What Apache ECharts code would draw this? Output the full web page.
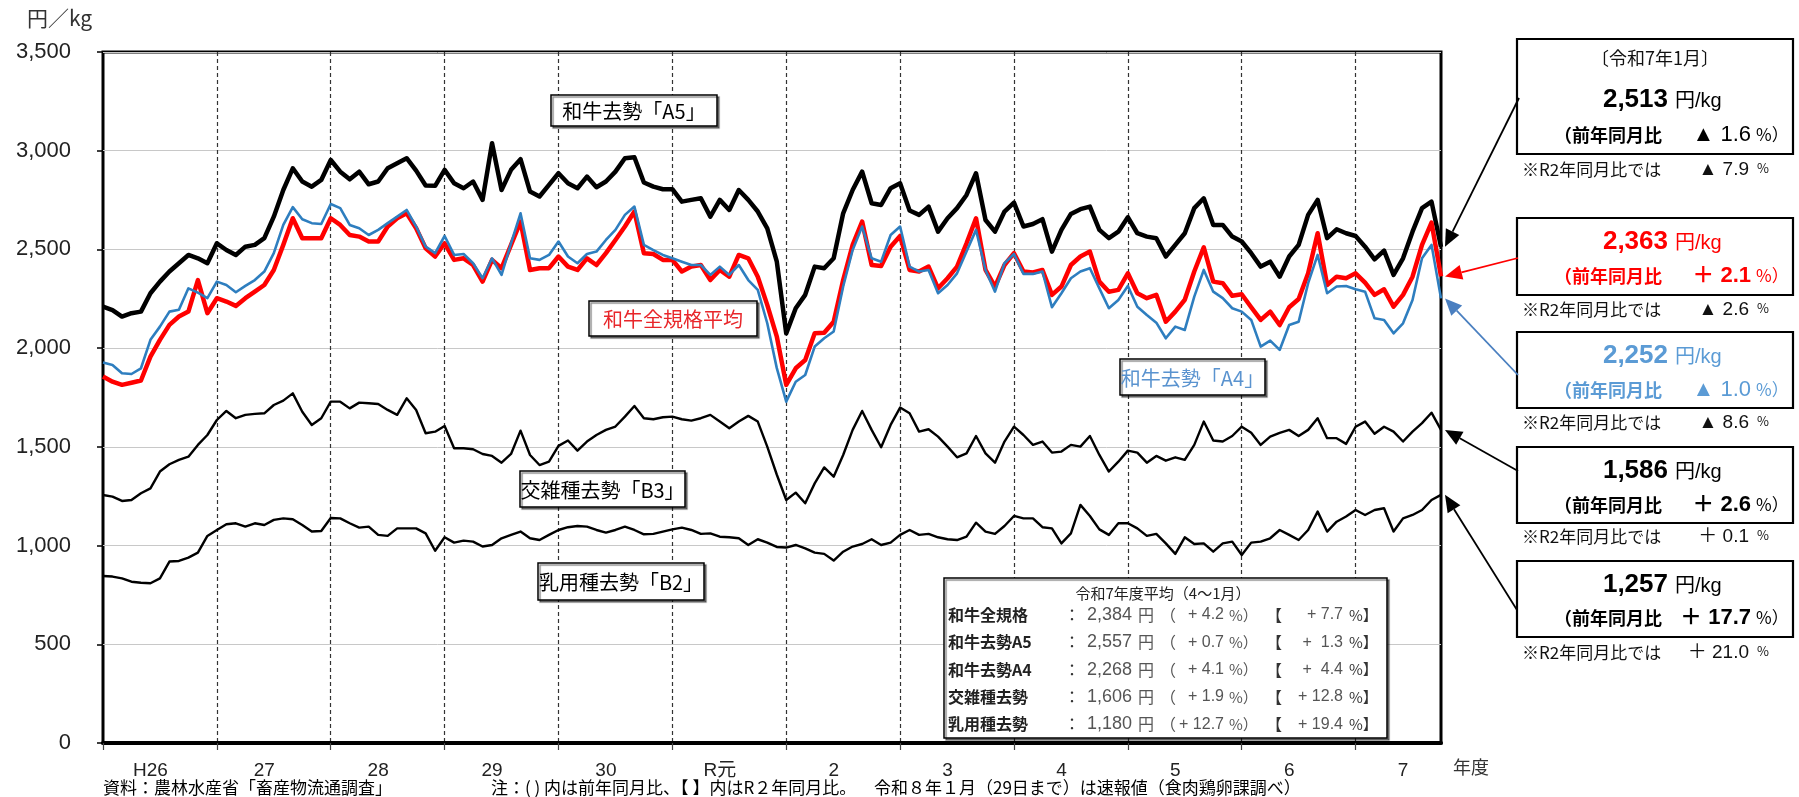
<!DOCTYPE html>
<html>
<head>
<meta charset="utf-8">
<script src="https://cdn.jsdelivr.net/npm/echarts@6/dist/echarts.min.js"></script>
<style>
html,body{margin:0;padding:0;background:#fff;}
#chart{width:1799px;height:797px;}
</style>
</head>
<body>
<div id="chart"></div>
<script>
// Fiscal years (April–March) and the number of months plotted in each
const fiscalYears = ['H26','27','28','29','30','R元','2','3','4','5','6','7'];
const monthsInYear = [12,12,12,12,12,12,12,12,12,12,12,10];
const monthNames = ['4月','5月','6月','7月','8月','9月','10月','11月','12月','1月','2月','3月'];

// Monthly carcass prices (円/kg), one row per fiscal year
const wagyuA5 = [
  2210,2193,2160,2177,2185,2278,2337,2388,2430,2472,2455,2430,
  2531,2497,2472,2514,2523,2557,2666,2801,2911,2844,2818,2852,
  2953,2894,2855,2894,2830,2844,2911,2937,2962,2899,2824,2822,
  2903,2835,2810,2844,2751,3038,2801,2903,2957,2793,2768,2827,
  2886,2835,2810,2869,2815,2844,2894,2962,2967,2839,2818,2805,
  2805,2742,2751,2759,2666,2751,2700,2801,2751,2692,2607,2440,
  2075,2202,2270,2413,2405,2455,2683,2801,2894,2734,2725,2810,
  2835,2697,2675,2717,2590,2658,2709,2776,2886,2649,2590,2692,
  2737,2616,2629,2653,2489,2599,2680,2704,2717,2599,2557,2590,
  2663,2582,2565,2557,2464,2523,2582,2709,2759,2624,2624,2565,
  2540,2481,2413,2438,2362,2464,2523,2675,2751,2557,2602,2582,
  2568,2514,2450,2494,2371,2455,2590,2709,2742,2513
];
const wagyuAll = [
  1856,1830,1814,1825,1836,1957,2042,2118,2160,2185,2345,2177,
  2253,2236,2214,2253,2286,2320,2396,2523,2658,2557,2557,2557,
  2658,2624,2573,2565,2540,2540,2616,2658,2683,2607,2506,2464,
  2531,2447,2455,2421,2337,2447,2405,2523,2641,2396,2405,2405,
  2464,2413,2396,2455,2421,2481,2548,2616,2692,2481,2477,2447,
  2447,2388,2413,2421,2345,2396,2362,2472,2455,2362,2219,2060,
  1814,1898,1940,2075,2078,2134,2345,2523,2641,2421,2416,2514,
  2568,2396,2388,2413,2303,2354,2413,2531,2658,2396,2312,2421,
  2481,2388,2383,2396,2270,2312,2421,2464,2489,2337,2286,2295,
  2379,2278,2253,2270,2134,2185,2245,2388,2511,2337,2329,2265,
  2273,2207,2143,2185,2117,2207,2249,2379,2582,2320,2362,2354,
  2379,2332,2270,2298,2210,2270,2362,2523,2636,2363
];
const wagyuA4 = [
  1927,1915,1873,1869,1898,2042,2109,2185,2194,2303,2281,2253,
  2337,2320,2283,2315,2345,2388,2481,2624,2714,2653,2633,2629,
  2730,2709,2624,2607,2573,2599,2633,2666,2700,2616,2514,2481,
  2568,2472,2477,2430,2354,2455,2371,2531,2683,2455,2447,2472,
  2540,2464,2430,2477,2489,2548,2599,2675,2717,2523,2497,2472,
  2455,2438,2421,2421,2371,2413,2371,2421,2345,2295,2126,1900,
  1729,1830,1864,2008,2050,2084,2312,2497,2616,2455,2438,2573,
  2616,2413,2388,2396,2278,2320,2379,2489,2599,2396,2286,2430,
  2477,2376,2376,2388,2207,2278,2354,2388,2405,2303,2202,2244,
  2315,2210,2168,2129,2050,2109,2092,2261,2396,2286,2253,2202,
  2185,2143,2008,2038,1991,2117,2134,2329,2472,2278,2312,2315,
  2298,2286,2151,2143,2075,2126,2244,2455,2523,2252
];
const crossB3 = [
  1256,1248,1226,1231,1265,1290,1375,1412,1434,1450,1510,1560,
  1636,1682,1645,1662,1667,1670,1712,1734,1771,1678,1611,1645,
  1729,1729,1695,1724,1721,1717,1687,1662,1746,1687,1569,1577,
  1606,1493,1493,1488,1464,1454,1420,1464,1582,1459,1408,1425,
  1505,1532,1481,1527,1560,1586,1603,1653,1707,1645,1640,1650,
  1653,1640,1633,1645,1662,1628,1594,1628,1657,1628,1501,1360,
  1231,1268,1214,1315,1396,1349,1459,1586,1682,1586,1498,1611,
  1699,1670,1577,1589,1552,1501,1447,1467,1555,1467,1420,1527,
  1602,1560,1510,1527,1471,1476,1510,1501,1555,1459,1375,1425,
  1481,1471,1420,1454,1430,1447,1434,1510,1628,1532,1527,1555,
  1602,1571,1510,1552,1571,1586,1555,1586,1645,1544,1544,1515,
  1602,1628,1566,1602,1577,1527,1577,1620,1673,1586
];
const dairyB2 = [
  846,843,834,817,812,809,834,919,922,939,964,1049,
  1079,1108,1113,1096,1113,1104,1130,1138,1133,1104,1071,1074,
  1140,1138,1113,1091,1096,1054,1049,1087,1087,1087,1062,974,
  1042,1015,1025,1020,995,1003,1037,1054,1071,1037,1028,1054,
  1079,1093,1099,1096,1079,1066,1079,1096,1079,1057,1059,1071,
  1082,1091,1079,1059,1062,1045,1042,1037,1003,1032,1015,993,
  990,1003,986,964,958,924,969,995,1008,1032,1003,1015,
  1054,1079,1054,1059,1042,1032,1028,1045,1116,1071,1059,1099,
  1150,1138,1138,1093,1087,1011,1062,1206,1150,1082,1054,1113,
  1113,1087,1049,1059,1011,958,1042,1008,1011,969,1011,1020,
  952,1015,1020,1037,1079,1054,1028,1079,1172,1071,1121,1147,
  1180,1155,1180,1189,1071,1138,1155,1180,1231,1257
];

// Year-on-year notes for the latest month
const latestYoY = ['▲ 1.6', '＋ 2.1', '▲ 1.0', '＋ 2.6', '＋ 17.7'];
const latestVsR2 = ['▲ 7.9', '▲ 2.6', '▲ 8.6', '＋ 0.1', '＋ 21.0'];

// Fiscal-year averages table
const tableLabels = ['和牛全規格', '和牛去勢A5', '和牛去勢A4', '交雑種去勢', '乳用種去勢'];
const tableAvg = ['2,384', '2,557', '2,268', '1,606', '1,180'];
const tableYoY = ['+ 4.2', '+ 0.7', '+ 4.1', '+ 1.9', '+ 12.7'];
const tableVsR2 = ['+ 7.7', '+  1.3', '+  4.4', '+ 12.8', '+ 19.4'];

const months = [];
fiscalYears.forEach((fy, k) => {
  for (let m = 0; m < monthsInYear[k]; m++) months.push(fy + '年度' + monthNames[m]);
});

const FONT = "'Liberation Sans','Noto Sans CJK JP',sans-serif";
const CJK = "'Noto Sans CJK JP','Liberation Sans',sans-serif";
const RED = '#ff0000';
const BLUE_LINE = '#2e7ebf';
const BLUE_TEXT = '#5b9bd5';

const chart = echarts.init(document.getElementById('chart'), null, {renderer: 'canvas'});

function line(name, data, color, width, z) {
  return {
    name, type: 'line', data, symbol: 'none', z,
    lineStyle: {color, width, join: 'round'},
    itemStyle: {color},
    emphasis: {disabled: true}
  };
}

chart.setOption({
  animation: false,
  backgroundColor: '#fff',
  grid: {left: 103, right: 358, top: 52, bottom: 54, show: true,
         borderColor: '#000', borderWidth: 3, backgroundColor: 'transparent'},
  xAxis: {
    type: 'category', data: months, boundaryGap: false,
    axisLine: {show: true, lineStyle: {color: '#000', width: 4}},
    axisTick: {show: true, interval: (i) => i % 12 === 0, length: 7,
               lineStyle: {color: '#444', width: 1.2}},
    axisLabel: {interval: (i) => i % 12 === 5, margin: 18,
                formatter: (v, i) => fiscalYears[Math.floor(i / 12)],
                color: '#222', fontSize: 19, fontFamily: FONT},
    splitLine: {show: true, interval: (i) => i > 0 && i % 12 === 0,
                lineStyle: {color: '#333', width: 1.2, type: [4, 3]}}
  },
  yAxis: {
    type: 'value', min: 0, max: 3500, interval: 500,
    axisLine: {show: false},
    axisTick: {show: true, length: 6, lineStyle: {color: '#000', width: 1.5}},
    axisLabel: {margin: 32, color: '#222', fontSize: 22, fontFamily: FONT,
                formatter: (v) => v.toLocaleString('en-US')},
    splitLine: {show: true, lineStyle: {color: '#c8c8c8', width: 1}}
  },
  series: [
    line('乳用種去勢「B2」', dairyB2, '#000', 2.4, 2),
    line('交雑種去勢「B3」', crossB3, '#000', 2.4, 2),
    line('和牛去勢「A5」', wagyuA5, '#000', 4.5, 3),
    line('和牛全規格平均', wagyuAll, RED, 4.5, 4),
    line('和牛去勢「A4」', wagyuA4, BLUE_LINE, 2.6, 5)
  ]
});

// ---- annotations ----
function txt(x, y, text, size, o = {}) {
  return {type: 'text', x, y, z: 100, silent: true,
    style: {text, font: (o.bold ? 'bold ' : '') + size + 'px ' + (o.family || CJK),
            fill: o.color || '#000', align: o.align || 'left', verticalAlign: 'middle'}};
}
function rect(x1, y1, x2, y2, o = {}) {
  return {type: 'rect', z: 90, silent: true,
    shape: {x: x1, y: y1, width: x2 - x1, height: y2 - y1},
    style: {fill: '#fff', stroke: '#000', lineWidth: o.lw || 1.5,
            shadowColor: o.shadow ? 'rgba(0,0,0,0.45)' : 'transparent',
            shadowOffsetX: 2, shadowOffsetY: 2, shadowBlur: 1}};
}
function arrow(x1, y1, x2, y2, color) {
  const ang = Math.atan2(y2 - y1, x2 - x1);
  const L = 17, W = 7.5;
  const bx = x2 - L * Math.cos(ang), by = y2 - L * Math.sin(ang);
  const px = -Math.sin(ang), py = Math.cos(ang);
  return [
    {type: 'line', z: 95, silent: true, shape: {x1, y1, x2: bx, y2: by},
     style: {stroke: color, lineWidth: 1.8}},
    {type: 'polygon', z: 95, silent: true,
     shape: {points: [[x2, y2], [bx + px * W, by + py * W], [bx - px * W, by - py * W]]},
     style: {fill: color}}
  ];
}

const g = [];
// unit and axis caption
g.push(txt(27, 18, '円／kg', 21, {color: '#333'}));
g.push(txt(1453, 767, '年度', 18, {color: '#333'}));
// source notes
g.push(txt(103, 788, '資料：農林水産省「畜産物流通調査」', 17));
g.push(txt(491, 788, '注：( ) 内は前年同月比、【 】内はR２年同月比。', 17));
g.push(txt(874, 788, '令和８年１月（29日まで）は速報値（食肉鶏卵課調べ）', 17));

// series name boxes
[
  [551, 95, 717, 126, '和牛去勢「A5」', '#000'],
  [589, 301, 757, 336, '和牛全規格平均', '#e8262a'],
  [1120, 359, 1265, 395, '和牛去勢「A4」', '#5a93cf'],
  [520, 471, 685, 507, '交雑種去勢「B3」', '#000'],
  [538, 563, 704, 600, '乳用種去勢「B2」', '#000']
].forEach(([x1, y1, x2, y2, t, c]) => {
  g.push(rect(x1, y1, x2, y2, {shadow: true}));
  g.push(txt((x1 + x2) / 2, (y1 + y2) / 2 + 1, t, 20, {color: c, align: 'center'}));
});

// fiscal-year average table
g.push(rect(944, 578, 1387, 738, {lw: 1.5, shadow: true}));
g.push(txt(1163, 593, '令和7年度平均（4～1月）', 15, {color: '#222', align: 'center'}));
tableLabels.forEach((lab, k) => {
  const y = 615 + k * 27.3;
  g.push(txt(948, y, lab, 16, {bold: true, color: '#222'}));
  g.push(txt(1072, y, '：', 16, {color: '#333', align: 'center'}));
  g.push(txt(1132, y, tableAvg[k], 18, {color: '#555', align: 'right', family: FONT}));
  g.push(txt(1138, y, '円', 16, {color: '#555'}));
  g.push(txt(1160, y, '（', 16, {color: '#555'}));
  g.push(txt(1224, y, tableYoY[k], 16, {color: '#555', align: 'right', family: FONT}));
  g.push(txt(1229, y, '%）', 15, {color: '#555'}));
  g.push(txt(1266, y, '【', 16, {color: '#333'}));
  g.push(txt(1343, y, tableVsR2[k], 16, {color: '#555', align: 'right', family: FONT}));
  g.push(txt(1349, y, '%】', 15, {color: '#333'}));
});

// latest-month boxes on the right
const boxes = [
  {top: 39, bot: 154, valY: 100, yoyY: 135, subY: 170, color: '#000', data: wagyuA5, bold: false, from: [1519, 98]},
  {top: 218, bot: 295, valY: 242, yoyY: 276, subY: 310, color: RED, data: wagyuAll, bold: true, from: [1518, 258]},
  {top: 332, bot: 408, valY: 356, yoyY: 390, subY: 423, color: BLUE_TEXT, data: wagyuA4, bold: false, from: [1518, 375]},
  {top: 447, bot: 523, valY: 471, yoyY: 505, subY: 537, color: '#000', data: crossB3, bold: true, from: [1518, 471]},
  {top: 561, bot: 637, valY: 585, yoyY: 618, subY: 653, color: '#000', data: dairyB2, bold: true, from: [1517, 610]}
];
const arrowColors = ['#000', RED, '#4a7fc0', '#000', '#000'];
const last = months.length - 1;
boxes.forEach((b, k) => {
  g.push(rect(1517, b.top, 1793, b.bot, {lw: 2.2}));
  if (k === 0) g.push(txt(1655, 58, '〔令和7年1月〕', 18, {align: 'center', color: '#111'}));
  const v = b.data[last];
  g.push(txt(1668, b.valY, v.toLocaleString('en-US'), 26, {bold: true, color: b.color, align: 'right', family: FONT}));
  g.push(txt(1675, b.valY + 1, '円/kg', 20, {color: b.color, family: FONT}));
  g.push(txt(1554, b.yoyY, '（前年同月比', 18, {bold: true, color: b.color}));
  g.push(txt(1751, b.yoyY, latestYoY[k], 22, {bold: b.bold, color: b.color, align: 'right', family: FONT}));
  g.push(txt(1756, b.yoyY, '%）', 17, {color: b.color}));
  g.push(txt(1522, b.subY, '※R2年同月比では', 17, {color: '#111'}));
  g.push(txt(1749, b.subY, latestVsR2[k], 19, {color: '#111', align: 'right', family: FONT}));
  g.push(txt(1757, b.subY - 2, '%', 13, {color: '#111'}));
  const p = chart.convertToPixel({xAxisIndex: 0, yAxisIndex: 0}, [last, v]);
  arrow(b.from[0], b.from[1], p[0] + 4, p[1], arrowColors[k]).forEach(e => g.push(e));
});

chart.setOption({graphic: g});
</script>
</body>
</html>
